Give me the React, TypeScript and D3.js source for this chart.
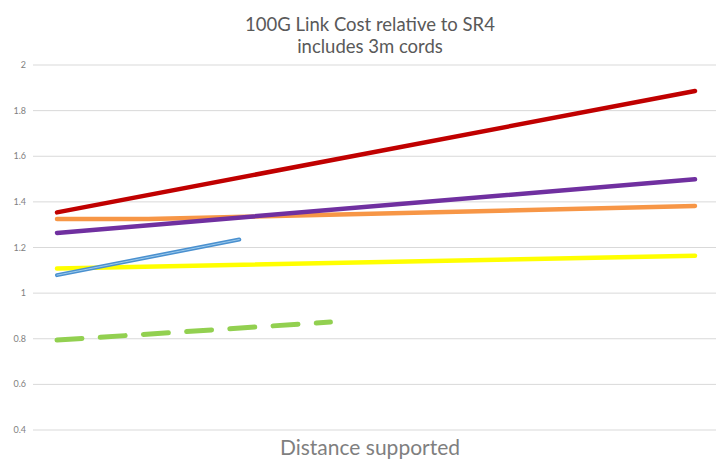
import React from "react";
import * as d3 from "d3";

const W = 720;
const H = 464;

const titleLines = ["100G Link Cost relative to SR4", "includes 3m cords"];
const xAxisTitle = "Distance supported";

// x positions are equally spaced distance steps (no labels in the reference)
const distanceSteps = [0, 1, 2, 3, 4, 5, 6, 7];
const yTicks = [0.4, 0.6, 0.8, 1, 1.2, 1.4, 1.6, 1.8, 2];

// each series: [step index, cost relative to SR4]
const redSeries: [number, number][] = [[0, 1.354], [7, 1.886]];
const purpleSeries: [number, number][] = [[0, 1.264], [7, 1.499]];
const orangeSeries: [number, number][] = [[0, 1.325], [1, 1.325], [7, 1.382]];
const yellowSeries: [number, number][] = [[0, 1.108], [7, 1.164]];
const blueSeries: [number, number][] = [[0, 1.079], [2, 1.235]];
const greenSeries: [number, number][] = [[0, 0.794], [3, 0.873]];

export default function App() {
  const x = d3
    .scaleLinear()
    .domain([distanceSteps[0], distanceSteps[distanceSteps.length - 1]])
    .range([57, 695]);
  const y = d3.scaleLinear().domain([0.4, 2]).range([430, 65]);
  const line = d3
    .line<[number, number]>()
    .x((d) => x(d[0]))
    .y((d) => y(d[1]));

  const font = "Lato, 'Open Sans', sans-serif";

  return (
    <svg
      width={W}
      height={H}
      style={{ position: "fixed", left: 0, top: 0, background: "#ffffff" }}
    >
      <rect width={W} height={H} fill="#ffffff" />
      <text
        x={370}
        y={31}
        textAnchor="middle"
        fontFamily={font}
        fontSize={18.5}
        fill="#595959"
      >
        {titleLines[0]}
      </text>
      <text
        x={370}
        y={53}
        textAnchor="middle"
        fontFamily={font}
        fontSize={18.5}
        fill="#595959"
      >
        {titleLines[1]}
      </text>

      {yTicks.map((t) => (
        <g key={t}>
          <line
            x1={33}
            x2={716}
            y1={y(t)}
            y2={y(t)}
            stroke="#d9d9d9"
            strokeWidth={1}
          />
          <text
            x={26}
            y={y(t) + 3}
            textAnchor="end"
            fontFamily={font}
            fontSize={9}
            fill="#7f7f7f"
          >
            {String(t)}
          </text>
        </g>
      ))}

      <path d={line(yellowSeries) || ""} fill="none" stroke="#ffff00" strokeWidth={4.5} strokeLinecap="round" />
      <path d={line(orangeSeries) || ""} fill="none" stroke="#f79646" strokeWidth={4.5} strokeLinecap="round" strokeLinejoin="round" />
      <path d={line(purpleSeries) || ""} fill="none" stroke="#7030a0" strokeWidth={4.5} strokeLinecap="round" />
      <path d={line(redSeries) || ""} fill="none" stroke="#c00000" strokeWidth={4.5} strokeLinecap="round" />
      <path d={line(blueSeries) || ""} fill="none" stroke="#4a90cf" strokeWidth={4} strokeLinecap="round" />
      <path d={line(blueSeries) || ""} fill="none" stroke="#9ccaec" strokeWidth={1} strokeLinecap="round" />
      <path
        d={line(greenSeries) || ""}
        fill="none"
        stroke="#92d050"
        strokeWidth={5}
        strokeLinecap="round"
        strokeDasharray="25 18.3"
      />

      <text
        x={370}
        y={455}
        textAnchor="middle"
        fontFamily={font}
        fontSize={21}
        fill="#7f7f7f"
      >
        {xAxisTitle}
      </text>
    </svg>
  );
}
